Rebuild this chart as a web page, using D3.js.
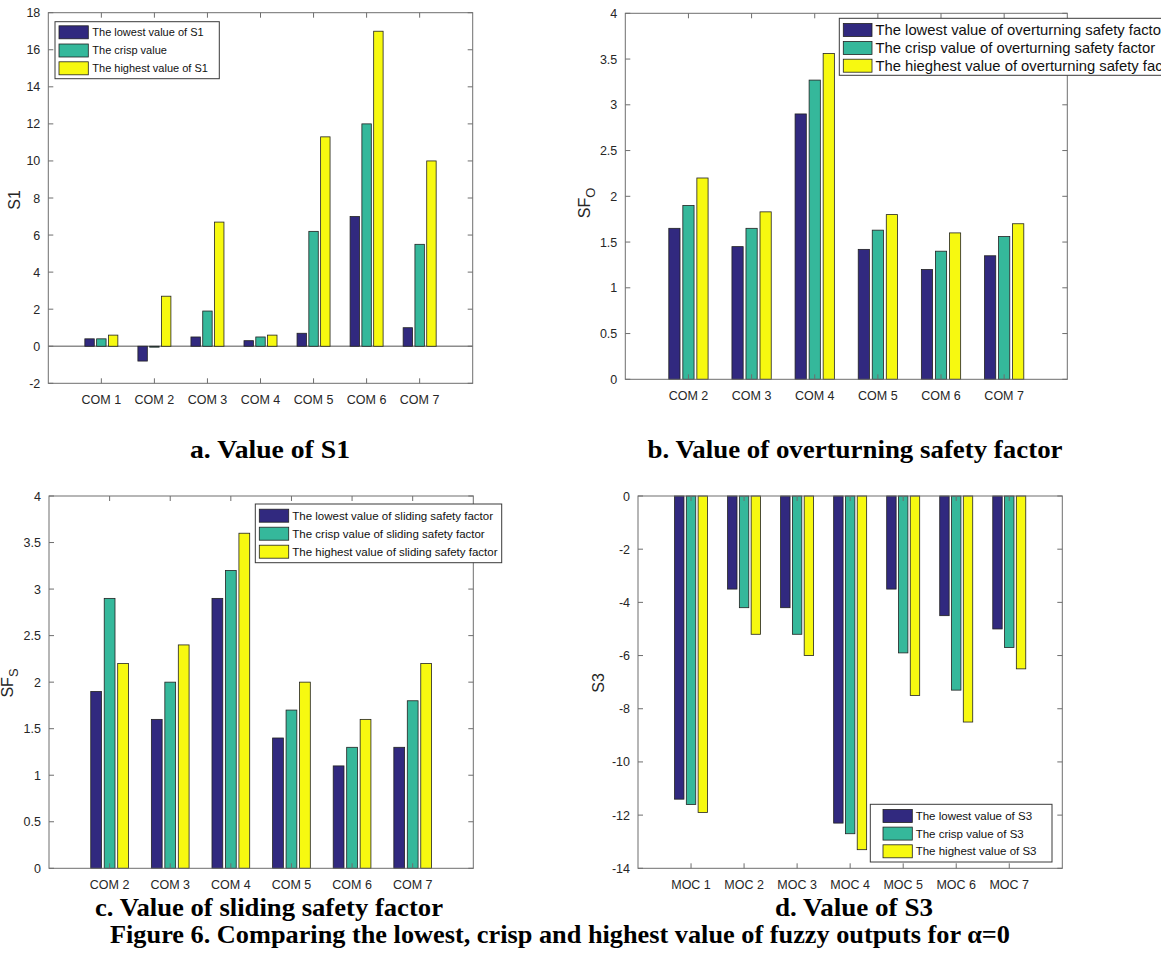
<!DOCTYPE html>
<html>
<head>
<meta charset="utf-8">
<script src="https://cdn.jsdelivr.net/npm/d3@7"></script>
<style>
  html, body { margin: 0; padding: 0; background: #fff; }
  svg { display: block; }
  .tick-label { font-family: "Liberation Sans", Arial, sans-serif; font-size: 12.5px; fill: #262626; }
  .legend-text { font-family: "Liberation Sans", Arial, sans-serif; fill: #111; }
  .ylab { font-family: "Liberation Sans", Arial, sans-serif; font-size: 16px; fill: #262626; }
  .caption { font-family: "Liberation Serif", "Times New Roman", serif; font-weight: bold; font-size: 25px; fill: #000; }
</style>
</head>
<body>
<svg id="fig" width="1161" height="978"></svg>
<script>
// ---- data ---------------------------------------------------------------
const seriesColors = ["#31297f", "#35b89b", "#f7f910"];

// (a) S1
const catsA = ["COM 1", "COM 2", "COM 3", "COM 4", "COM 5", "COM 6", "COM 7"];
const s1Lowest = [0.4, -0.8, 0.5, 0.3, 0.7, 7.0, 1.0];
const s1Crisp = [0.4, -0.05, 1.9, 0.5, 6.2, 12.0, 5.5];
const s1Highest = [0.6, 2.7, 6.7, 0.6, 11.3, 17.0, 10.0];
const ticksA = [-2, 0, 2, 4, 6, 8, 10, 12, 14, 16, 18];
const legendA = ["The lowest value of S1", "The crisp value", "The highest value of S1"];

// (b) overturning safety factor
const catsB = ["COM 2", "COM 3", "COM 4", "COM 5", "COM 6", "COM 7"];
const sfoLowest = [1.65, 1.45, 2.9, 1.42, 1.2, 1.35];
const sfoCrisp = [1.9, 1.65, 3.27, 1.63, 1.4, 1.56];
const sfoHighest = [2.2, 1.83, 3.56, 1.8, 1.6, 1.7];
const ticksB = [0, 0.5, 1, 1.5, 2, 2.5, 3, 3.5, 4];
const legendB = ["The lowest value of overturning safety factor",
                 "The crisp value of overturning safety factor",
                 "The hieghest value of overturning safety factor"];

// (c) sliding safety factor
const catsC = ["COM 2", "COM 3", "COM 4", "COM 5", "COM 6", "COM 7"];
const sfsLowest = [1.9, 1.6, 2.9, 1.4, 1.1, 1.3];
const sfsCrisp = [2.9, 2.0, 3.2, 1.7, 1.3, 1.8];
const sfsHighest = [2.2, 2.4, 3.6, 2.0, 1.6, 2.2];
const ticksC = [0, 0.5, 1, 1.5, 2, 2.5, 3, 3.5, 4];
const legendC = ["The lowest value of sliding safety factor",
                 "The crisp value of sliding safety factor",
                 "The highest value of sliding safety factor"];

// (d) S3
const catsD = ["MOC 1", "MOC 2", "MOC 3", "MOC 4", "MOC 5", "MOC 6", "MOC 7"];
const s3Lowest = [-11.4, -3.5, -4.2, -12.3, -3.5, -4.5, -5.0];
const s3Crisp = [-11.6, -4.2, -5.2, -12.7, -5.9, -7.3, -5.7];
const s3Highest = [-11.9, -5.2, -6.0, -13.3, -7.5, -8.5, -6.5];
const ticksD = [-14, -12, -10, -8, -6, -4, -2, 0];
const legendD = ["The lowest value of S3", "The crisp value of S3", "The highest value of S3"];

// ---- drawing -------------------------------------------------------------
const svg = d3.select("#fig");

function drawPanel(cfg) {
  const g = svg.append("g");
  const n = cfg.cats.length;
  // grouped-bar layout: groups at 1..n, x limits [0, n+1]
  const x = d3.scaleLinear().domain([0, n + 1]).range([cfg.left, cfg.right]);
  const y = d3.scaleLinear().domain(cfg.yDomain).range([cfg.bottom, cfg.top]);
  const series = cfg.series;
  const step = 0.2222;         // spacing between bars inside a group (data units)
  const barW = 0.8 * step;     // bar width (data units)
  const base = cfg.baseline;

  // baseline (only when it falls inside the plot)
  if (cfg.showBaseline) {
    g.append("line")
      .attr("x1", cfg.left).attr("x2", cfg.right)
      .attr("y1", y(base)).attr("y2", y(base))
      .attr("stroke", "#8c8c8c").attr("stroke-width", 1.6);
  }

  series.forEach((vals, si) => {
    g.selectAll(null)
      .data(vals.map((v, i) => ({ v, i })))
      .enter().append("rect")
      .attr("x", d => x(d.i + 1 + (si - 1) * step - barW / 2))
      .attr("width", d => x(barW) - x(0))
      .attr("y", d => Math.min(y(d.v), y(base)))
      .attr("height", d => Math.abs(y(d.v) - y(base)))
      .attr("fill", seriesColors[si])
      .attr("stroke", "#222")
      .attr("stroke-width", 0.8);
  });

  // axes box with inward ticks on all four sides
  const axisColor = "#6e6e6e";
  g.append("rect")
    .attr("x", cfg.left).attr("y", cfg.top)
    .attr("width", cfg.right - cfg.left).attr("height", cfg.bottom - cfg.top)
    .attr("fill", "none").attr("stroke", axisColor).attr("stroke-width", 1);

  const tl = 5;
  cfg.yTicks.forEach(t => {
    const yy = y(t);
    g.append("line").attr("x1", cfg.left).attr("x2", cfg.left + tl)
      .attr("y1", yy).attr("y2", yy).attr("stroke", axisColor);
    g.append("line").attr("x1", cfg.right).attr("x2", cfg.right - tl)
      .attr("y1", yy).attr("y2", yy).attr("stroke", axisColor);
    g.append("text").attr("class", "tick-label")
      .attr("x", cfg.left - 8).attr("y", yy + 4.5)
      .attr("text-anchor", "end").text(t);
  });
  cfg.cats.forEach((c, i) => {
    const xx = x(i + 1);
    g.append("line").attr("x1", xx).attr("x2", xx)
      .attr("y1", cfg.bottom).attr("y2", cfg.bottom - tl).attr("stroke", axisColor);
    g.append("line").attr("x1", xx).attr("x2", xx)
      .attr("y1", cfg.top).attr("y2", cfg.top + tl).attr("stroke", axisColor);
    g.append("text").attr("class", "tick-label")
      .attr("x", xx).attr("y", cfg.bottom + 21)
      .attr("text-anchor", "middle").text(c);
  });

  // y-axis label (optional subscript)
  const yl = g.append("text").attr("class", "ylab")
    .attr("transform", `translate(${cfg.ylabX},${cfg.ylabY}) rotate(-90)`)
    .attr("text-anchor", "middle");
  yl.append("tspan").text(cfg.ylabel);
  if (cfg.ylabelSub) {
    yl.append("tspan").attr("dy", 5).attr("font-size", "13px").text(cfg.ylabelSub);
  }

  // legend
  const L = cfg.legend;
  const lg = g.append("g");
  lg.append("rect")
    .attr("x", L.x).attr("y", L.y).attr("width", L.w).attr("height", L.h)
    .attr("fill", "#fff").attr("stroke", "#3a3a3a").attr("stroke-width", 1);
  cfg.legendLabels.forEach((lab, i) => {
    const cy = L.rows[i];
    lg.append("rect")
      .attr("x", L.sx).attr("y", cy - 6.5).attr("width", L.sw).attr("height", 13)
      .attr("fill", seriesColors[i]).attr("stroke", "#222").attr("stroke-width", 0.8);
    lg.append("text").attr("class", "legend-text")
      .attr("font-size", L.fs + "px")
      .attr("x", L.tx).attr("y", cy + L.fs * 0.36).text(lab);
  });
}

drawPanel({
  cats: catsA, series: [s1Lowest, s1Crisp, s1Highest],
  left: 48.3, right: 472.7, top: 12.7, bottom: 383.3,
  yDomain: [-2, 18], yTicks: ticksA, baseline: 0, showBaseline: true,
  ylabel: "S1", ylabX: 20, ylabY: 200,
  legendLabels: legendA,
  legend: { x: 55, y: 21.7, w: 164.3, h: 57, sx: 59, sw: 29.3, tx: 92.3, fs: 11, rows: [32.3, 50.5, 68.3] }
});

drawPanel({
  cats: catsB, series: [sfoLowest, sfoCrisp, sfoHighest],
  left: 625.3, right: 1067.3, top: 13.3, bottom: 379.3,
  yDomain: [0, 4], yTicks: ticksB, baseline: 0, showBaseline: false,
  ylabel: "SF", ylabelSub: "O", ylabX: 590, ylabY: 203,
  legendLabels: legendB,
  legend: { x: 839.3, y: 18.3, w: 360, h: 57, sx: 843.3, sw: 28.7, tx: 875.5, fs: 14.8, rows: [30, 48, 65.7] }
});

drawPanel({
  cats: catsC, series: [sfsLowest, sfsCrisp, sfsHighest],
  left: 49, right: 473.3, top: 496, bottom: 868.3,
  yDomain: [0, 4], yTicks: ticksC, baseline: 0, showBaseline: false,
  ylabel: "SF", ylabelSub: "S", ylabX: 13, ylabY: 683,
  legendLabels: legendC,
  legend: { x: 255.3, y: 504, w: 246.4, h: 58.7, sx: 259.3, sw: 29.4, tx: 292.3, fs: 11.5, rows: [515.7, 533.7, 551.7] }
});

drawPanel({
  cats: catsD, series: [s3Lowest, s3Crisp, s3Highest],
  left: 638, right: 1062.3, top: 496, bottom: 868.3,
  yDomain: [-14, 0], yTicks: ticksD, baseline: 0, showBaseline: false,
  ylabel: "S3", ylabX: 604, ylabY: 683,
  legendLabels: legendD,
  legend: { x: 870.3, y: 804.3, w: 181.7, h: 57.7, sx: 883, sw: 29.3, tx: 915.7, fs: 11.5, rows: [816, 833.6, 851.3] }
});

// ---- captions -----------------------------------------------------------
const captions = [
  { t: "a. Value of S1", x: 270, y: 458, w: 160 },
  { t: "b. Value of overturning safety factor", x: 855, y: 458, w: 415 },
  { t: "c. Value of sliding safety factor", x: 269, y: 916, w: 348 },
  { t: "d. Value of S3", x: 854, y: 916, w: 158 },
  { t: "Figure 6. Comparing the lowest, crisp and highest value of fuzzy outputs for α=0", x: 560, y: 943, w: 900 }
];
svg.selectAll("text.caption")
  .data(captions).enter().append("text")
  .attr("class", "caption")
  .attr("x", d => d.x).attr("y", d => d.y)
  .attr("text-anchor", "middle")
  .attr("textLength", d => d.w)
  .attr("lengthAdjust", "spacingAndGlyphs")
  .text(d => d.t);
</script>
</body>
</html>
